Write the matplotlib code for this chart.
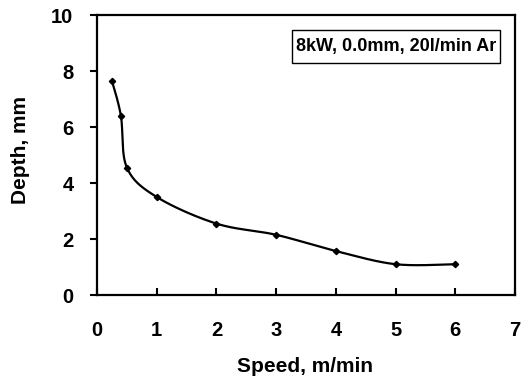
import numpy as np
import matplotlib
matplotlib.use("Agg")
import matplotlib.pyplot as plt
from matplotlib.patches import Rectangle

speed = [0.25, 0.4, 0.5, 1, 2, 3, 4, 5, 6]
depth = [7.65, 6.4, 4.55, 3.5, 2.55, 2.15, 1.57, 1.1, 1.1]
x_ticks = [0, 1, 2, 3, 4, 5, 6, 7]
y_ticks = [0, 2, 4, 6, 8, 10]
annotation = "8kW, 0.0mm, 20l/min Ar"

plt.rcParams['font.family'] = ['Liberation Sans', 'DejaVu Sans']
plt.rcParams['font.weight'] = 'bold'


def smooth(xs, ys, n=30):
    # Catmull-Rom style Bezier smoothing (like spreadsheet "smoothed line")
    xs = np.asarray(xs, float)
    ys = np.asarray(ys, float)
    px = np.concatenate([[xs[0]], xs, [xs[-1]]])
    py = np.concatenate([[ys[0]], ys, [ys[-1]]])
    outx, outy = [], []
    for i in range(1, len(px) - 2):
        p0 = np.array([px[i - 1], py[i - 1]])
        p1 = np.array([px[i], py[i]])
        p2 = np.array([px[i + 1], py[i + 1]])
        p3 = np.array([px[i + 2], py[i + 2]])
        c1 = p1 + (p2 - p0) / 6.0
        c2 = p2 - (p3 - p1) / 6.0
        t = np.linspace(0, 1, n)[:, None]
        b = ((1 - t) ** 3) * p1 + 3 * ((1 - t) ** 2) * t * c1 + 3 * (1 - t) * t ** 2 * c2 + t ** 3 * p2
        outx.extend(b[:, 0])
        outy.extend(b[:, 1])
    return np.array(outx), np.array(outy)


fig = plt.figure(figsize=(5.31, 3.79), dpi=100)
ax = fig.add_axes([0.1827, 0.2216, 0.7873, 0.7388])

sx, sy = smooth(speed, depth)
ax.plot(sx, sy, color='black', lw=1.6)
ax.plot(speed, depth, linestyle='none', marker='D', markersize=3.2, color='black')

ax.set_xlim(0, 7)
ax.set_ylim(0, 10)
ax.set_xticks(x_ticks)
ax.set_yticks(y_ticks)
ax.tick_params(axis='x', direction='in', length=5, width=1.5, pad=19, labelsize=14.5)
ax.tick_params(axis='y', direction='out', length=5, width=1.5, pad=12, labelsize=14.5)
for lab in ax.get_xticklabels() + ax.get_yticklabels():
    lab.set_fontweight('bold')
for s in ax.spines.values():
    s.set_linewidth(1.6)

ax.set_xlabel("Speed, m/min", fontsize=15, fontweight='bold', va='center')
ax.set_ylabel("Depth, mm", fontsize=15, fontweight='bold', va='center')
ax.xaxis.set_label_coords(0.498, -0.257)
ax.yaxis.set_label_coords(-0.183, 0.518)

ax.add_patch(Rectangle((0.4665, 0.8286), 0.4976, 0.1179, transform=ax.transAxes,
                       facecolor='white', edgecolor='black', linewidth=1.0, zorder=4))
ax.text(0.7153, 0.8875, annotation, transform=ax.transAxes, ha='center', va='center',
        fontsize=13, fontweight='bold', zorder=5)

fig.savefig("out.png", dpi=100)
